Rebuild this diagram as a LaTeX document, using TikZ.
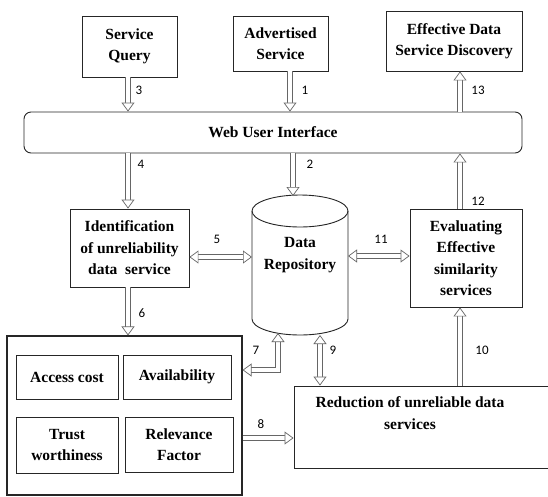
\documentclass[tikz,border=0pt]{standalone}
\usepackage{fontspec}
\setmainfont{Liberation Serif}
\newfontfamily\tnrfont{Liberation Serif}
\newfontfamily\numfont{Carlito}
\usetikzlibrary{arrows.meta,calc}
\begin{document}
\begin{tikzpicture}[x=1pt,y=-1pt,
  box/.style={draw=black!85, line width=0.9pt, inner sep=0pt, align=center,
    font=\tnrfont\bfseries\fontsize{15.5}{21.5}\selectfont},
  inbox/.style={box, line width=0.8pt},
  blk/.style={draw=black!60, line width=0.7pt, double=white, double distance=4.2pt},
  onearrow/.style={blk, -{Triangle[fill=white, length=9pt, width=13pt]}},
  twoarrow/.style={blk, {Triangle[fill=white, length=9pt, width=13pt]}-{Triangle[fill=white, length=9pt, width=13pt]}},
  num/.style={inner sep=0pt, font=\numfont\fontsize{13}{13}\selectfont},
  txt/.style={inner sep=0pt, align=center, font=\tnrfont\bfseries\fontsize{15.5}{21.5}\selectfont}
]
\clip (0,0) rectangle (548,496);
\fill[white] (0,0) rectangle (548,496);

% top boxes
\node[box, minimum width=95, minimum height=61] (sq) at (129.5,46.5) {Service\\Query};
\node[box, minimum width=95, minimum height=55] (adv) at (280.5,43.5) {Advertised\\Service};
\node[box, minimum width=136, minimum height=60] (eds) at (454,41) {Effective Data\\Service Discovery};

% web user interface
\node[box, rounded corners=7pt, minimum width=498, minimum height=41] (wui) at (273,132.5) {Web User Interface};

% middle
\node[box, minimum width=119, minimum height=78] (ident) at (129.5,248) {Identification\\of unreliability\\data\enspace service};
\node[box, minimum width=112, minimum height=98] (eval) at (466,258) {Evaluating\\Effective\\similarity\\services};

% cylinder
\draw[black!85, line width=0.9pt, fill=white] (252,211) -- (252,319)
  arc[start angle=180, end angle=0, x radius=48, y radius=16] -- (348,211);
\draw[black!85, line width=0.9pt] (300,211) ellipse[x radius=48, y radius=16];
\node[minimum width=96, minimum height=140, inner sep=0pt] (cyl) at (300,265) {};
\node[txt] (cyltxt) at (300,255) {Data\\Repository};

% big box
\node[box, line width=1.1pt, minimum width=235, minimum height=159] (big) at (124.5,415.5) {};
\node[inbox, minimum width=102, minimum height=44] (ac) at (67,377) {Access cost};
\node[inbox, minimum width=108, minimum height=44] (av) at (177,377) {Availability};
\node[inbox, minimum width=102, minimum height=56] (tw) at (67,445) {Trust\\worthiness};
\node[inbox, minimum width=108, minimum height=55] (rf) at (179,444.5) {Relevance\\Factor};

% reduction box
\node[box, minimum width=270, minimum height=82] (red) at (429,427) {};
\node[txt] (redtxt) at (410,413) {Reduction of unreliable data\\services};

% connector helper coordinates
\coordinate (c2) at (293,196);
\coordinate (c5) at (252,257);
\coordinate (c11) at (348,256);
\coordinate (c7) at (278,333);
\coordinate (c9) at (320,335);

% arrows
\draw[onearrow] (sq.south -| 128,0) -- (wui.north -| 128,0);
\draw[onearrow] (adv.south -| 290,0) -- (wui.north -| 290,0);
\draw[onearrow] (wui.north -| 460,0) -- (eds.south -| 460,0);
\draw[onearrow] (wui.south -| 128,0) -- (ident.north -| 128,0);
\draw[onearrow] (wui.south -| c2) -- (c2);
\draw[onearrow] (eval.north -| 460,0) -- (wui.south -| 460,0);
\draw[twoarrow] (ident.east |- c5) -- (c5);
\draw[twoarrow] (c11) -- (eval.west |- c11);
\draw[onearrow] (ident.south -| 128,0) -- (big.north -| 128,0);
\draw[twoarrow] (c7) |- (big.east |- 0,370);
\draw[twoarrow] (c9) -- (red.north -| c9);
\draw[onearrow] (big.east |- 0,438) -- (red.west |- 0,438);
\draw[onearrow] (red.north -| 460,0) -- (eval.south -| 460,0);

% numbers
\node[num] (n3) at (139,90) {3};
\node[num] (n1) at (305,90) {1};
\node[num] (n13) at (478,90) {13};
\node[num] (n4) at (141,164) {4};
\node[num] (n2) at (310,164) {2};
\node[num] (n12) at (478,201) {12};
\node[num] (n5) at (217,239) {5};
\node[num] (n11) at (381,239) {11};
\node[num] (n6) at (142,313) {6};
\node[num] (n7) at (256,350) {7};
\node[num] (n9) at (333,350) {9};
\node[num] (n10) at (482,350) {10};
\node[num] (n8) at (261,424) {8};
\end{tikzpicture}
\end{document}
